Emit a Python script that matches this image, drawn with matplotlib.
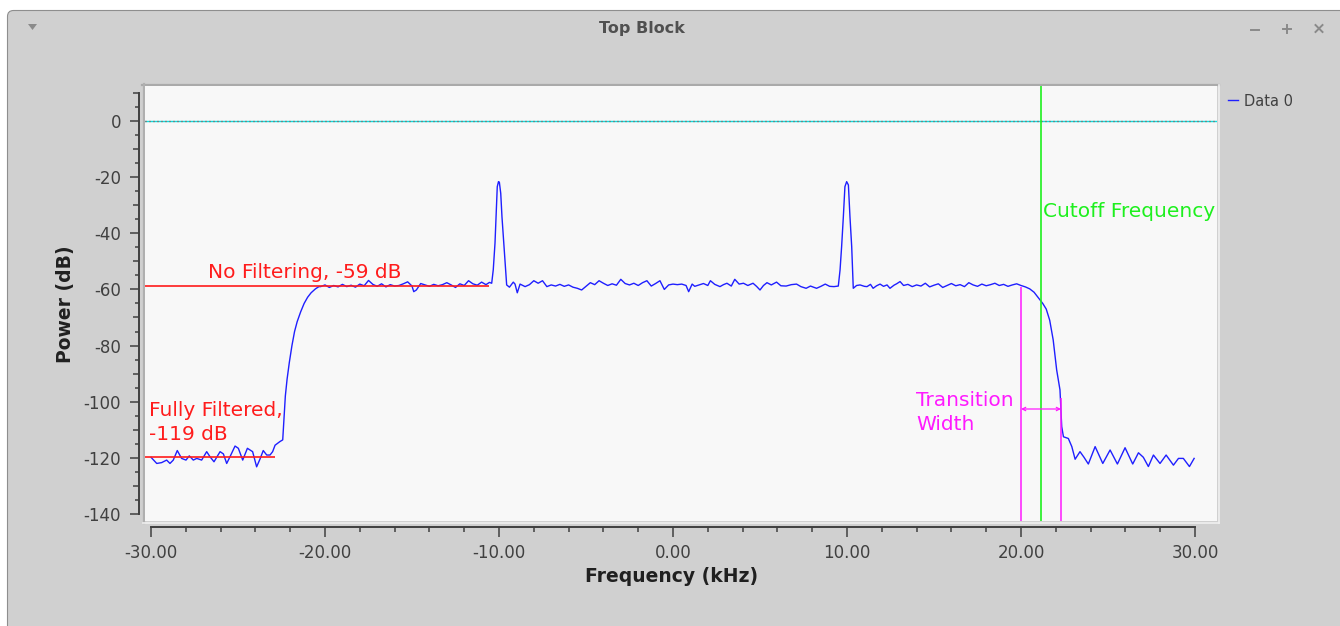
import numpy as np
import matplotlib.pyplot as plt
from matplotlib.patches import FancyBboxPatch, Polygon
from matplotlib.ticker import FixedLocator, FuncFormatter

plt.rcParams['axes.unicode_minus'] = False
plt.rcParams['font.family'] = ['DejaVu Sans']
plt.rcParams['lines.scale_dashes'] = False

# spectrum trace (kHz, dB)
freq_khz = [
    -30.00, -29.67, -29.39, -29.10, -28.91, -28.72, -28.49, -28.24, -27.99, -27.80,
    -27.57, -27.37, -27.09, -26.80, -26.61, -26.38, -26.03, -25.84, -25.65, -25.46,
    -25.17, -24.98, -24.73, -24.46, -24.16, -23.93, -23.74, -23.55, -23.35, -23.16,
    -23.01, -22.87, -22.59, -22.43, -22.35, -22.28, -22.18, -22.05, -21.90, -21.75,
    -21.60, -21.40, -21.20, -21.00, -20.80, -20.55, -20.35,
    -20.25, -20.00, -19.75, -19.50, -19.25, -19.00, -18.75, -18.50, -18.25, -18.00,
    -17.75, -17.50, -17.25, -17.00, -16.75, -16.50, -16.25, -16.00, -15.75, -15.50,
    -15.25, -15.00, -14.90, -14.75, -14.50, -14.25, -14.00, -13.75, -13.50, -13.25,
    -13.00, -12.75, -12.50, -12.25, -12.00, -11.75, -11.50, -11.25, -11.00, -10.75,
    -10.55, -10.42, -10.33, -10.23, -10.17, -10.10, -10.03, -9.98, -9.90, -9.83,
    -9.71, -9.60, -9.56, -9.40, -9.18, -9.08, -8.95, -8.79,
    -8.50, -8.25, -8.00, -7.75, -7.50, -7.25, -7.00, -6.75, -6.50, -6.25,
    -6.00, -5.75, -5.50, -5.25, -5.00, -4.75, -4.50, -4.25, -4.00, -3.75,
    -3.50, -3.25, -3.00, -2.75, -2.50, -2.25, -2.00, -1.75, -1.50, -1.25,
    -1.00, -0.75, -0.50, -0.25, 0.00, 0.25, 0.50, 0.75, 0.90, 1.10,
    1.25, 1.50, 1.75, 2.00, 2.15, 2.40, 2.70, 2.90, 3.10, 3.35,
    3.55, 3.80, 4.05, 4.30, 4.60, 4.80, 5.00, 5.20, 5.40, 5.65,
    5.95, 6.20, 6.50, 6.80, 7.10, 7.35, 7.65, 7.90, 8.25, 8.50,
    8.75, 9.00, 9.25, 9.50,
    9.60, 9.69, 9.79, 9.88, 9.98, 10.08, 10.17, 10.27, 10.33, 10.36,
    10.55, 10.75, 11.00, 11.15, 11.35, 11.50, 11.70, 11.90, 12.10, 12.30,
    12.47, 12.70, 12.85, 13.05, 13.25, 13.50, 13.75, 14.00, 14.25, 14.50,
    14.75, 15.00, 15.25, 15.50, 15.75, 16.00, 16.25, 16.50, 16.75, 17.00,
    17.25, 17.50, 17.75, 18.00, 18.25, 18.50, 18.75, 19.00, 19.25, 19.50,
    19.75, 20.00, 20.25, 20.50, 20.75, 21.00, 21.25, 21.45, 21.65, 21.85,
    22.05, 22.24, 22.34, 22.44, 22.72, 22.92, 23.11, 23.39, 23.62, 23.87,
    24.26, 24.70, 25.12, 25.54, 25.98, 26.42, 26.75, 27.03, 27.32, 27.61,
    27.99, 28.34, 28.76, 29.05, 29.33, 29.68, 29.95,
]
power_db = [
    -119.8, -122.0, -121.7, -120.8, -122.0, -120.8, -117.4, -120.2, -120.8, -119.3,
    -120.8, -120.2, -120.8, -117.8, -119.6, -121.4, -117.8, -118.6, -122.0, -119.6,
    -115.8, -116.6, -120.8, -116.6, -117.8, -123.2, -120.5, -117.4, -119.0, -119.0,
    -117.8, -115.5, -114.2, -113.6, -105.0, -98.0, -92.0, -86.0, -80.0, -75.0,
    -71.5, -68.0, -65.0, -62.8, -61.2, -59.8, -59.0,
    -59.0, -58.4, -59.3, -58.6, -59.1, -58.2, -59.0, -58.5, -59.2, -58.1,
    -58.7, -56.8, -58.2, -58.9, -58.0, -59.1, -58.3, -58.8, -58.6, -58.0,
    -57.3, -58.8, -60.8, -60.2, -57.9, -58.4, -58.9, -58.2, -58.7, -58.3,
    -57.6, -58.4, -59.3, -58.0, -58.6, -56.9, -58.0, -58.5, -57.4, -58.3,
    -57.5, -57.8, -53.0, -43.5, -34.1, -23.4, -21.6, -21.8, -25.8, -34.1,
    -44.8, -54.3, -58.4, -59.2, -57.4, -58.1, -61.2, -58.1,
    -59.0, -58.3, -56.9, -57.8, -56.9, -59.0, -58.4, -58.8, -58.2, -58.9,
    -58.4, -59.2, -59.6, -60.2, -58.9, -57.6, -58.3, -56.9, -57.8, -58.6,
    -58.0, -58.5, -56.4, -57.9, -58.4, -57.8, -58.6, -57.6, -56.9, -58.8,
    -57.9, -56.9, -60.0, -58.4, -58.1, -58.3, -58.1, -58.6, -60.8, -58.1,
    -58.9, -58.4, -57.9, -58.6, -56.9, -58.2, -59.0, -58.3, -57.8, -58.8,
    -56.4, -58.1, -57.8, -58.6, -57.8, -58.9, -60.2, -58.6, -57.6, -58.4,
    -57.4, -58.7, -58.8, -58.3, -58.1, -59.0, -59.6, -58.8, -59.6, -58.9,
    -58.1, -58.9, -59.0, -58.8,
    -53.1, -44.8, -34.1, -23.4, -21.6, -22.8, -34.1, -44.8, -54.3, -59.6,
    -58.6, -58.4, -58.9, -59.0, -58.2, -59.6, -58.7, -58.1, -58.9, -58.4,
    -59.6, -58.5, -58.0, -57.2, -58.6, -58.2, -59.0, -58.4, -58.8, -57.8,
    -59.1, -58.5, -58.0, -59.3, -58.6, -57.9, -58.7, -58.3, -59.0, -57.6,
    -58.4, -58.9, -58.1, -58.7, -58.3, -57.8, -58.6, -58.2, -58.9, -58.4,
    -58.0, -58.6, -59.1, -59.8, -61.0, -63.0, -65.0, -67.0, -71.0, -78.0,
    -88.7, -95.8, -108.9, -112.5, -113.1, -116.0, -120.5, -117.8, -119.8, -122.2,
    -116.0, -122.0, -117.2, -122.2, -116.4, -122.2, -118.2, -119.8, -123.1, -119.0,
    -122.0, -119.0, -122.6, -120.2, -120.2, -123.1, -120.2,
]
series_label = 'Data 0'

# annotation values
ref_db = 0
no_filter_db = -58.9
no_filter_end_khz = -10.55
full_filter_db = -119.6
full_filter_end_khz = -22.9
cutoff_khz = 21.15
trans_start_khz = 20.0
trans_stop_khz = 22.3
trans_start_top_db = -59.0
trans_stop_top_db = -98.8
trans_arrow_db = -102.6

x_major = [-30, -20, -10, 0, 10, 20, 30]
x_minor = [v for v in range(-30, 31, 2) if v % 10 != 0]
y_major = list(range(-140, 11, 10))
y_minor = [v for v in range(-140, 11, 5) if v % 10 != 0]

RED = '#ff1c1c'
GREEN = '#1ef01e'
MAGENTA = '#ff1aff'
BLUE = '#1f1fff'
AXCOL = '#404040'

fig = plt.figure(figsize=(13.4, 6.26), dpi=100, facecolor='white')

# window frame drawn in pixel coordinates
bg = fig.add_axes([0, 0, 1, 1])
bg.set_xlim(0, 1340)
bg.set_ylim(626, 0)
bg.axis('off')
win = FancyBboxPatch((7.5, 10.5), 1345, 700, boxstyle='round,pad=0,rounding_size=6',
                     fc='#d0d0d0', ec='#8e8e8e', lw=0.8)
bg.add_patch(win)
grad = np.linspace(0, 1, 40)[:, None]
top_c = np.array([0.89, 0.89, 0.89])
bot_c = np.array([0.815, 0.815, 0.815])
img = top_c + (bot_c - top_c) * grad[..., None]
im = bg.imshow(img, extent=(7.5, 1345, 52, 11), aspect='auto', interpolation='bilinear')
im.set_clip_path(win)
bg.set_xlim(0, 1340)
bg.set_ylim(626, 0)
bg.text(642, 29, 'Top Block', ha='center', va='center', fontsize=11.5, fontweight='bold',
        color='#505050', family=['Liberation Sans Narrow', 'DejaVu Sans Condensed', 'DejaVu Sans'])
bg.add_patch(Polygon([(28, 24), (37, 24), (32.5, 30)], closed=True, fc='#8a8a8a', ec='none'))
bg.plot([1251, 1259], [30, 30], color='#8a8a8a', lw=1.4)
bg.plot([1283, 1291], [29, 29], color='#8a8a8a', lw=1.4)
bg.plot([1287, 1287], [25, 33], color='#8a8a8a', lw=1.4)
bg.plot([1315.5, 1322.5], [25, 32], color='#8a8a8a', lw=1.4)
bg.plot([1315.5, 1322.5], [32, 25], color='#8a8a8a', lw=1.4)
# sunken canvas border
bg.plot([142, 1219], [84.5, 84.5], color='#aaaaaa', lw=1.6)
bg.plot([143.5, 143.5], [84, 523], color='#b0b0b0', lw=1.6)
bg.plot([143, 1219], [522.5, 522.5], color='#f0f0f0', lw=1.2)
bg.plot([1218.5, 1218.5], [85, 523], color='#f0f0f0', lw=1.2)

ax = fig.add_axes([145 / 1340, (626 - 521) / 626, 1072 / 1340, 435 / 626])
ax.set_facecolor('#f8f8f8')
ax.set_xlim(-30.345, 31.264)
ax.set_ylim(-142.5, 12.47)

ax.plot(freq_khz, power_db, color=BLUE, lw=1.0, label=series_label, zorder=3)

ax.axhline(ref_db, color='#10e0e0', lw=1.0, zorder=2)
ax.axhline(ref_db, color='#b03838', lw=1.0, linestyle=(0, (0.72, 2.16)), zorder=2)

x0 = ax.get_xlim()[0]
y0 = ax.get_ylim()[0]
ax.hlines(no_filter_db, x0, no_filter_end_khz, color=RED, lw=1.2, zorder=4)
ax.hlines(full_filter_db, x0, full_filter_end_khz, color=RED, lw=1.2, zorder=4)
ax.text(-26.72, -55.9, 'No Filtering, -59 dB', color=RED, fontsize=14.5, va='baseline')
ax.text(-30.11, -105.1, 'Fully Filtered,', color=RED, fontsize=14.5, va='baseline')
ax.text(-30.11, -113.6, '-119 dB', color=RED, fontsize=14.5, va='baseline')

ax.axvline(cutoff_khz, color=GREEN, lw=1.2, zorder=4)
ax.text(21.26, -34.3, 'Cutoff Frequency', color=GREEN, fontsize=14.5, va='baseline')

ax.vlines(trans_start_khz, y0, trans_start_top_db, color=MAGENTA, lw=1.1, zorder=4)
ax.vlines(trans_stop_khz, y0, trans_stop_top_db, color=MAGENTA, lw=1.1, zorder=4)
ax.annotate('', xy=(trans_stop_khz, trans_arrow_db), xytext=(trans_start_khz, trans_arrow_db),
            arrowprops=dict(arrowstyle='<->', color=MAGENTA, lw=0.9, mutation_scale=6,
                            shrinkA=0, shrinkB=0), zorder=4)
ax.text(13.97, -101.7, 'Transition', color=MAGENTA, fontsize=14.5, va='baseline')
ax.text(13.97, -110.0, 'Width', color=MAGENTA, fontsize=14.5, va='baseline')

# axes styled like the Qwt plot
for s in ['top', 'right']:
    ax.spines[s].set_visible(False)
ax.spines['left'].set_position(('outward', 4.3))
ax.spines['bottom'].set_position(('outward', 4.3))
ax.spines['left'].set_bounds(-140, 10)
ax.spines['bottom'].set_bounds(-30, 30)
for s in ['left', 'bottom']:
    ax.spines[s].set_color(AXCOL)
    ax.spines[s].set_linewidth(1.4)

ax.xaxis.set_major_locator(FixedLocator(x_major))
ax.xaxis.set_minor_locator(FixedLocator(x_minor))
ax.yaxis.set_major_locator(FixedLocator(y_major))
ax.yaxis.set_minor_locator(FixedLocator(y_minor))
ax.xaxis.set_major_formatter(FuncFormatter(lambda v, p: '%.2f' % v))
ax.yaxis.set_major_formatter(FuncFormatter(lambda v, p: '%d' % v if (v % 20 == 0 and v <= 0) else ''))

ax.tick_params(which='both', direction='out', color=AXCOL, width=1.1, labelcolor=AXCOL, labelsize=12)
ax.tick_params(axis='x', which='major', length=7.2, pad=5)
ax.tick_params(axis='x', which='minor', length=3.6)
ax.tick_params(axis='y', which='major', length=6.5, pad=6.5)
ax.tick_params(axis='y', which='minor', length=2.9)
for t, v in zip(ax.yaxis.get_major_ticks(len(y_major)), y_major):
    if v % 20 != 0:
        t.tick1line.set_markersize(4.5)

ax.set_xlabel('Frequency (kHz)', fontsize=13.5, fontweight='bold', color='#202020')
ax.set_ylabel('Power (dB)', fontsize=13.5, fontweight='bold', color='#202020')
ax.xaxis.label.set_va('center')
ax.yaxis.label.set_va('center')
ax.xaxis.set_label_coords((672 - 145) / 1072, (521 - 576) / 435)
ax.yaxis.set_label_coords((66 - 145) / 1072, (521 - 304) / 435)

ax.legend(loc='center left', bbox_to_anchor=(1228 / 1340, 1 - 101 / 626), bbox_transform=fig.transFigure,
          frameon=False, borderpad=0, borderaxespad=0, handlelength=0.7, handletextpad=0.4,
          fontsize=10.5, labelcolor=AXCOL)

plt.savefig('out.png', dpi=100, facecolor=fig.get_facecolor())
